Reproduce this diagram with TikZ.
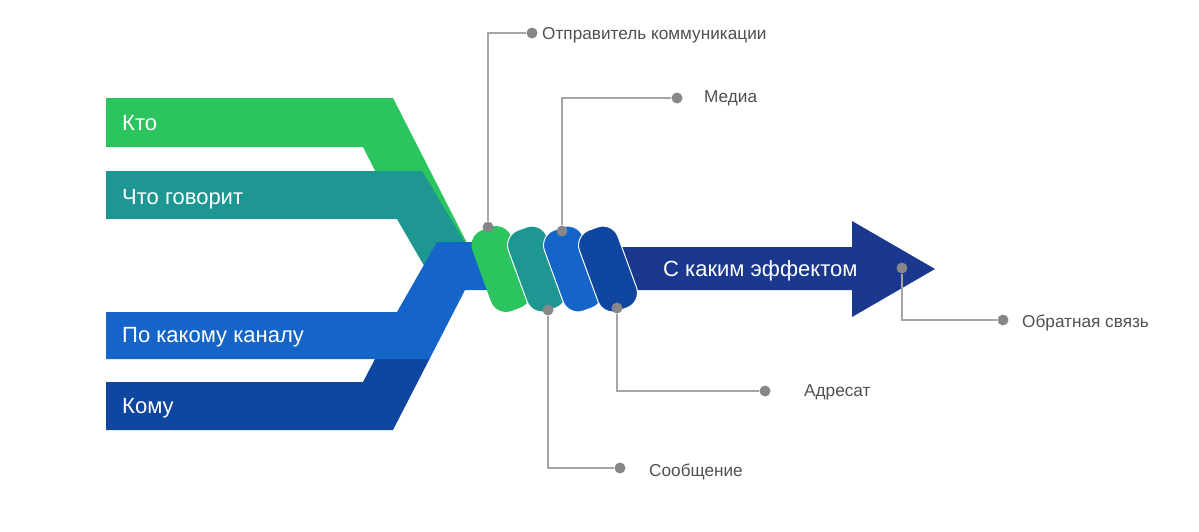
\documentclass[tikz,border=0pt]{standalone}
\usepackage{fontspec}
\setmainfont{Liberation Sans}
\definecolor{cgreen}{RGB}{44,196,94}
\definecolor{cteal}{RGB}{30,150,145}
\definecolor{cblue}{RGB}{21,101,200}
\definecolor{cdblue}{RGB}{14,70,160}
\definecolor{carrow}{RGB}{26,56,142}
\definecolor{lgray}{RGB}{165,165,165}
\definecolor{dgray}{RGB}{135,135,135}
\definecolor{tgray}{RGB}{80,80,80}
\tikzset{
  coil/.style={shape=rectangle, inner sep=0pt, minimum width=41pt, minimum height=86pt, rounded corners=16pt, rotate=20},
  seam/.style={draw=white, line width=1pt},
  dot/.style={circle, fill=dgray, inner sep=0pt, minimum size=11pt},
  conn/.style={draw=lgray, line width=1.1pt},
  lbl/.style={anchor=base west, inner sep=0pt, text=tgray, font=\fontsize{17.2}{19}\selectfont},
  bandtxt/.style={anchor=base west, inner sep=0pt, text=white, font=\fontsize{22}{24}\selectfont}
}
\begin{document}
\begin{tikzpicture}[x=1pt,y=-1pt]
\fill[white] (0,0) rectangle (1199,531);
\useasboundingbox (0,0) rectangle (1199,531);
% bands
\fill[cgreen] (106,98) -- (393,98) -- (467,243) -- (412,243) -- (363,147) -- (106,147) -- cycle;
\fill[cteal] (106,171) -- (422,171) -- (470,251) -- (423.5,264.8) -- (397,219) -- (106,219) -- cycle;
\fill[cdblue] (106,382) -- (363,382) -- (375,359) -- (429.5,359) -- (393,430) -- (106,430) -- cycle;
\fill[cblue] (106,312) -- (397,312) -- (437,242) -- (560,242) -- (560,290) -- (465,290) -- (429.5,359) -- (106,359) -- cycle;
% arrow
\fill[carrow] (590,247) -- (852,247) -- (852,221) -- (935,269) -- (852,317) -- (852,290) -- (590,290) -- cycle;
% coils
\node[coil, fill=cgreen] (k1) at (501,269) {};
\node[coil, seam, fill=cteal] (k2) at (537,269) {};
\node[coil, seam, fill=cblue] (k3) at (573,269) {};
\node[coil, seam, fill=cdblue] (k4) at (608,269) {};
% band texts
\node[bandtxt] (t1) at (122,130) {Кто};
\node[bandtxt] (t2) at (122,204) {Что говорит};
\node[bandtxt] (t3) at (122,342) {По какому каналу};
\node[bandtxt] (t4) at (122,413) {Кому};
\node[bandtxt] (t5) at (663,276) {С каким эффектом};
% dots
\node[dot] (dA) at (488,227) {};
\node[dot] (dA2) at (532,33) {};
\node[dot] (dB) at (548,310) {};
\node[dot] (dB2) at (620,468) {};
\node[dot] (dC) at (562,231) {};
\node[dot] (dC2) at (677,98) {};
\node[dot] (dD) at (617,308) {};
\node[dot] (dD2) at (765,391) {};
\node[dot] (dE) at (902,268) {};
\node[dot] (dE2) at (1003,320) {};
% connectors
\draw[conn] (dA) |- (dA2);
\draw[conn] (dB) |- (dB2);
\draw[conn] (dC) |- (dC2);
\draw[conn] (dD) |- (dD2);
\draw[conn] (dE) |- (dE2);
% labels
\node[lbl] (lA) at (542,39) {Отправитель коммуникации};
\node[lbl] (lC) at (704,102) {Медиа};
\node[lbl] (lB) at (649,476) {Сообщение};
\node[lbl] (lD) at (804,396) {Адресат};
\node[lbl] (lE) at (1022,327) {Обратная связь};
\end{tikzpicture}
\end{document}
